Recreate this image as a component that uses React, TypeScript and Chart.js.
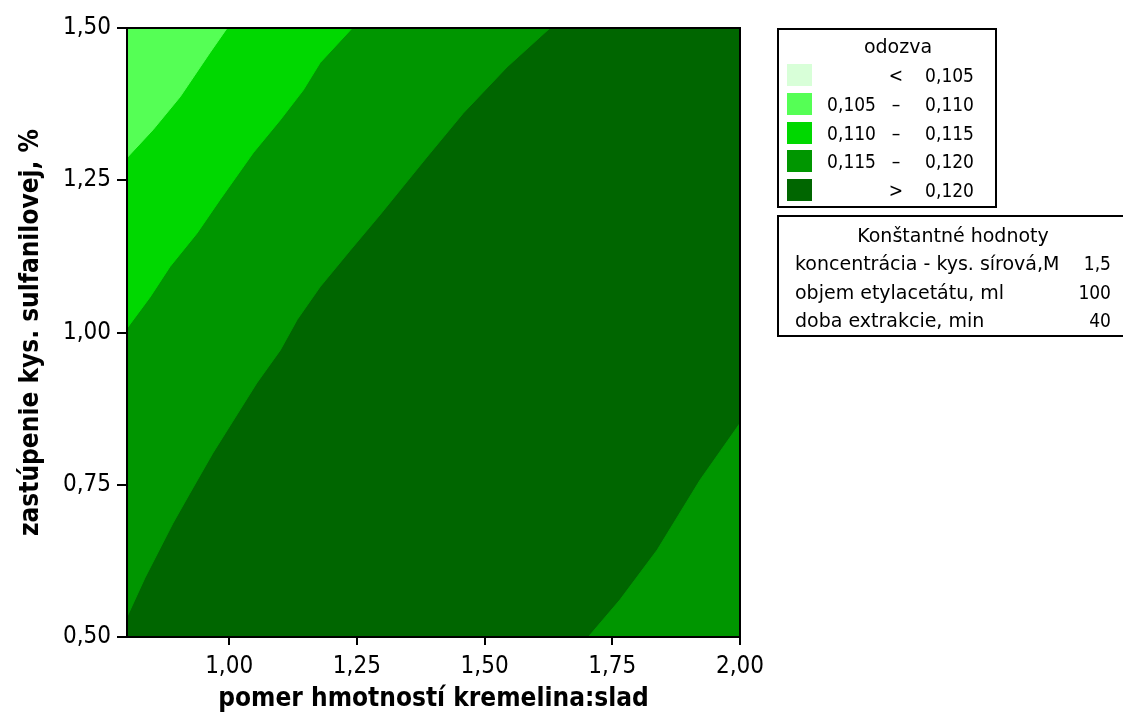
import React, { useEffect, useRef } from "react";
import { Chart, registerables } from "chart.js";

Chart.register(...registerables);

// ---- data ----
const xRange = [0.8, 2.0];
const yRange = [0.5, 1.5];
const xTickValues = [1.0, 1.25, 1.5, 1.75, 2.0];
const yTickValues = [0.5, 0.75, 1.0, 1.25, 1.5];

// contour 0.110 (between 0.105–0.110 and 0.110–0.115)
const contour110 = [
  { x: 0.8, y: 1.287 },
  { x: 0.851, y: 1.333 },
  { x: 0.904, y: 1.387 },
  { x: 0.962, y: 1.459 },
  { x: 0.996, y: 1.5 },
];
// contour 0.115
const contour115 = [
  { x: 0.8, y: 1.007 },
  { x: 0.845, y: 1.058 },
  { x: 0.884, y: 1.108 },
  { x: 0.937, y: 1.163 },
  { x: 0.982, y: 1.218 },
  { x: 1.047, y: 1.295 },
  { x: 1.1, y: 1.349 },
  { x: 1.145, y: 1.398 },
  { x: 1.178, y: 1.443 },
  { x: 1.241, y: 1.5 },
];
// contour 0.120 (upper-left branch)
const contour120a = [
  { x: 0.8, y: 0.533 },
  { x: 0.835, y: 0.597 },
  { x: 0.89, y: 0.687 },
  { x: 0.923, y: 0.736 },
  { x: 0.968, y: 0.802 },
  { x: 1.054, y: 0.917 },
  { x: 1.1, y: 0.971 },
  { x: 1.133, y: 1.021 },
  { x: 1.178, y: 1.075 },
  { x: 1.237, y: 1.135 },
  { x: 1.295, y: 1.193 },
  { x: 1.387, y: 1.288 },
  { x: 1.458, y: 1.36 },
  { x: 1.544, y: 1.436 },
  { x: 1.628, y: 1.5 },
];
// contour 0.120 (lower-right branch)
const contour120b = [
  { x: 1.703, y: 0.5 },
  { x: 1.765, y: 0.561 },
  { x: 1.838, y: 0.643 },
  { x: 1.922, y: 0.758 },
  { x: 2.0, y: 0.851 },
];

const levelLabels = [
  ["", "<", "0,105"],
  ["0,105", "–", "0,110"],
  ["0,110", "–", "0,115"],
  ["0,115", "–", "0,120"],
  ["", ">", "0,120"],
];
const levelColors = ["#D8FFD8", "#55FF55", "#00D800", "#009600", "#006600"];

const constNames = [
  "koncentrácia - kys. sírová,M",
  "objem etylacetátu, ml",
  "doba extrakcie, min",
];
const constValues = ["1,5", "100", "40"];

const FONT = "'DejaVu Sans Condensed', 'DejaVu Sans', sans-serif";
const FONT_WIDE = "'DejaVu Sans', sans-serif";

const fmt = (v: number) => v.toFixed(2).replace(".", ",");

export default function App() {
  const ref = useRef<HTMLCanvasElement | null>(null);

  useEffect(() => {
    document.body.style.margin = "0";
    const canvas = ref.current!;
    const bgPlugin = {
      id: "bgArea",
      beforeDatasetsDraw(chart: any) {
        const { ctx, chartArea: a } = chart;
        ctx.save();
        ctx.fillStyle = levelColors[4];
        ctx.fillRect(a.left, a.top, a.right - a.left, a.bottom - a.top);
        ctx.restore();
      },
      afterDatasetsDraw(chart: any) {
        const { ctx, chartArea: a } = chart;
        ctx.save();
        ctx.strokeStyle = "#000";
        ctx.lineWidth = 2;
        ctx.strokeRect(a.left, a.top, a.right - a.left, a.bottom - a.top);
        ctx.restore();
      },
    };

    const ds = (data: any[], color: string, fill: string) => ({
      data,
      showLine: true,
      fill,
      backgroundColor: color,
      borderColor: color,
      borderWidth: 1,
      pointRadius: 0,
      tension: 0,
    });

    const chart = new Chart(canvas, {
      type: "scatter",
      data: {
        datasets: [
          ds(contour110, levelColors[1], "end"),
          ds(contour115, levelColors[2], "end"),
          ds(contour120a, levelColors[3], "end"),
          ds(contour120b, levelColors[3], "start"),
        ] as any,
      },
      options: {
        animation: false,
        responsive: false,
        devicePixelRatio: 1,
        layout: { padding: { left: 0, top: 28, right: 383, bottom: 0 } },
        plugins: { legend: { display: false }, tooltip: { enabled: false } },
        scales: {
          x: {
            type: "linear",
            min: xRange[0],
            max: xRange[1],
            afterFit: (s: any) => {
              s.height = 78;
            },
            afterBuildTicks: (s: any) => {
              s.ticks = xTickValues.map((v) => ({ value: v }));
            },
            ticks: {
              callback: (v: any) => fmt(Number(v)),
              font: { family: FONT, size: 24 },
              color: "#000",
              padding: 7,
              maxRotation: 0,
              autoSkip: false,
            },
            grid: {
              drawOnChartArea: false,
              drawTicks: true,
              tickLength: 8,
              color: "#000",
              lineWidth: 2,
            },
            border: { display: true, color: "#000", width: 2 },
            title: {
              display: true,
              text: "pomer hmotností kremelina:slad",
              font: { family: FONT, size: 26, weight: "bold" },
              color: "#000",
              padding: { top: 0, bottom: 0 },
            },
          },
          y: {
            type: "linear",
            min: yRange[0],
            max: yRange[1],
            afterFit: (s: any) => {
              s.width = 127;
            },
            afterBuildTicks: (s: any) => {
              s.ticks = yTickValues.map((v) => ({ value: v }));
            },
            ticks: {
              callback: (v: any) => fmt(Number(v)),
              font: { family: FONT, size: 24 },
              color: "#000",
              padding: 6,
              autoSkip: false,
            },
            grid: {
              drawOnChartArea: false,
              drawTicks: true,
              tickLength: 10,
              color: "#000",
              lineWidth: 2,
            },
            border: { display: true, color: "#000", width: 2 },
            title: {
              display: true,
              text: "zastúpenie kys. sulfanilovej, %",
              font: { family: FONT, size: 26, weight: "bold" },
              color: "#000",
              padding: { top: 16, bottom: 0 },
            },
          },
        },
      } as any,
      plugins: [bgPlugin],
    });
    return () => chart.destroy();
  }, []);

  const txt: React.CSSProperties = {
    position: "absolute",
    fontFamily: FONT_WIDE,
    fontSize: 19,
    color: "#000",
    whiteSpace: "nowrap",
    lineHeight: "24px",
    height: 24,
  };
  const num: React.CSSProperties = { ...txt, fontFamily: FONT };

  return (
    <div style={{ position: "absolute", left: 0, top: 0, width: 1123, height: 715, background: "#fff" }}>
      <canvas ref={ref} width={1123} height={715} style={{ position: "absolute", left: 0, top: 0 }} />
      {/* legend box */}
      <div
        style={{
          position: "absolute",
          left: 777,
          top: 28,
          width: 216,
          height: 176,
          border: "2px solid #000",
        }}
      />
      <div style={{ ...txt, left: 778, width: 240, top: 34, textAlign: "center" }}>odozva</div>
      {levelLabels.map((row, i) => {
        const cy = 75 + i * 28.8;
        return (
          <React.Fragment key={i}>
            <div
              style={{
                position: "absolute",
                left: 787,
                top: cy - 11,
                width: 25,
                height: 22,
                background: levelColors[i],
              }}
            />
            <div style={{ ...num, left: 810, width: 66, top: cy - 12, textAlign: "right" }}>{row[0]}</div>
            <div style={{ ...num, left: 880, width: 32, top: cy - 12, textAlign: "center" }}>{row[1]}</div>
            <div style={{ ...num, left: 914, width: 60, top: cy - 12, textAlign: "right" }}>{row[2]}</div>
          </React.Fragment>
        );
      })}
      {/* constants box */}
      <div
        style={{
          position: "absolute",
          left: 777,
          top: 215,
          width: 344,
          height: 118,
          border: "2px solid #000",
        }}
      />
      <div style={{ ...txt, left: 778, width: 350, top: 223, textAlign: "center" }}>Konštantné hodnoty</div>
      {constNames.map((n, i) => (
        <React.Fragment key={n}>
          <div style={{ ...txt, left: 795, top: 251 + i * 28.5 }}>{n}</div>
          <div style={{ ...num, left: 1051, width: 60, top: 251 + i * 28.5, textAlign: "right" }}>
            {constValues[i]}
          </div>
        </React.Fragment>
      ))}
    </div>
  );
}
